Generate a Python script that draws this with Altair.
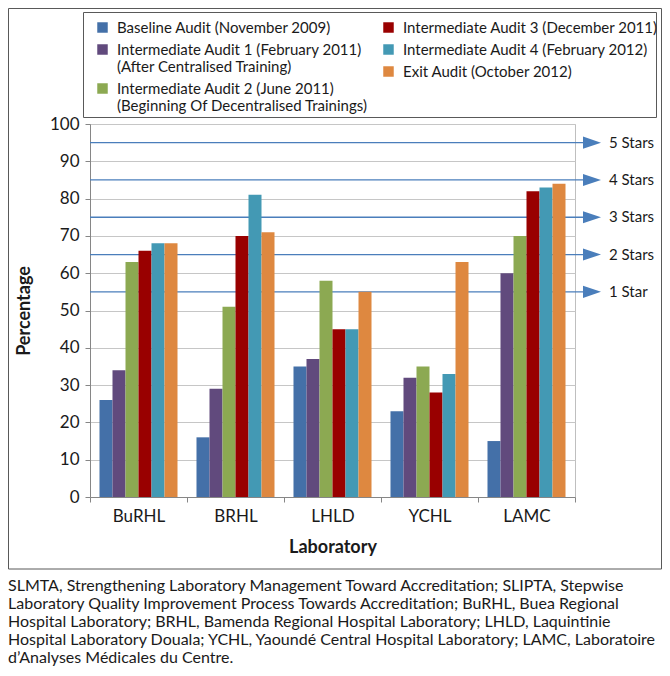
import altair as alt
import pandas as pd

FONT = "Lato"
TEXT = "#1a1a1a"

labs = ["BuRHL", "BRHL", "LHLD", "YCHL", "LAMC"]
audits = [
    "Baseline Audit (November 2009)",
    "Intermediate Audit 1 (February 2011)|(After Centralised Training)",
    "Intermediate Audit 2 (June 2011)|(Beginning Of Decentralised Trainings)",
    "Intermediate Audit 3 (December 2011)",
    "Intermediate Audit 4 (February 2012)",
    "Exit Audit (October 2012)",
]
colors = ["#4470A8", "#614A7D", "#8CA952", "#990000", "#4399B4", "#DE8840"]

baseline = [26, 16, 35, 23, 15]
ia1 = [34, 29, 37, 32, 60]
ia2 = [63, 51, 58, 35, 70]
ia3 = [66, 70, 45, 28, 82]
ia4 = [68, 81, 45, 33, 83]
exit_audit = [68, 71, 55, 63, 84]

star_levels = [55, 65, 75, 85, 95]
star_labels = ["1 Star", "2 Stars", "3 Stars", "4 Stars", "5 Stars"]

footnote = [
    "SLMTA, Strengthening Laboratory Management Toward Accreditation; SLIPTA, Stepwise",
    "Laboratory Quality Improvement Process Towards Accreditation; BuRHL, Buea Regional",
    "Hospital Laboratory; BRHL, Bamenda Regional Hospital Laboratory; LHLD, Laquintinie",
    "Hospital Laboratory Douala; YCHL, Yaoundé Central Hospital Laboratory; LAMC, Laboratoire",
    "d\u2019Analyses Médicales du Centre.",
]

series = [baseline, ia1, ia2, ia3, ia4, exit_audit]
rows = []
for a, vals in zip(audits, series):
    for lab, v in zip(labs, vals):
        rows.append({"lab": lab, "audit": a, "value": v})
df = pd.DataFrame(rows)
star_df = pd.DataFrame({"value": star_levels, "label": star_labels})
one = pd.DataFrame({"k": [0]})

W, H = 485, 373

x_enc = alt.X("lab:N", sort=labs, title="Laboratory",
              scale=alt.Scale(paddingInner=0, paddingOuter=0))
y_enc = alt.Y("value:Q", title="Percentage", scale=alt.Scale(domain=[0, 100]))

legend_common = dict(
    orient="none", title=None, direction="vertical",
    symbolType="square", symbolSize=110, symbolStrokeWidth=0,
    labelFont=FONT, labelFontSize=15, labelColor=TEXT, labelLimit=500,
    labelExpr="split(datum.label, '|')", labelOffset=7,
    rowPadding=6, padding=0,
)

bars = alt.Chart(df).mark_bar().encode(
    x=x_enc,
    xOffset=alt.XOffset("audit:N", sort=audits,
                        scale=alt.Scale(paddingInner=0, paddingOuter=0.73)),
    y=y_enc,
    color=alt.Color("audit:N", scale=alt.Scale(domain=audits, range=colors),
                    legend=alt.Legend(values=audits[:3], legendX=5, legendY=-104,
                                      **legend_common)),
)

legend2 = alt.Chart(df).transform_filter("false").mark_bar().encode(
    color=alt.Color("audit:N", scale=alt.Scale(domain=audits, range=colors),
                    legend=alt.Legend(values=audits[3:], legendX=291, legendY=-104,
                                      **legend_common)),
)

frame = alt.Chart(one).mark_rect(fill="transparent", stroke="#595959", strokeWidth=1).encode(
    x=alt.value(-81.5), x2=alt.value(571.5), y=alt.value(-115.5), y2=alt.value(445)
)
legend_box = alt.Chart(one).mark_rect(fill="transparent", stroke="#595959", strokeWidth=1).encode(
    x=alt.value(-6.5), x2=alt.value(566.5), y=alt.value(-111.5), y2=alt.value(-6.5)
)

rules = alt.Chart(star_df).mark_rule(color="#4A7EBB", strokeWidth=1.3).encode(
    y=alt.Y("value:Q", title="Percentage"), x=alt.value(0), x2=alt.value(493)
)
arrows = alt.Chart(star_df).mark_point(
    shape="M-1,-0.67L1,0L-1,0.67Z", filled=True, size=324, color="#4A7EBB", opacity=1
).encode(y=alt.Y("value:Q", title="Percentage"), x=alt.value(502))
star_text = alt.Chart(star_df).mark_text(
    align="left", baseline="middle", font=FONT, fontSize=15, color=TEXT
).encode(y=alt.Y("value:Q", title="Percentage"), x=alt.value(519), text="label:N")

chart = alt.layer(frame, legend_box, rules, bars, legend2, arrows, star_text).resolve_scale(
    color="independent"
).resolve_legend(
    color="independent"
).properties(
    width=W, height=H,
    padding={"left": 82, "top": 116, "right": 87, "bottom": 171},
    autosize=alt.AutoSizeParams(type="none"),
    title=alt.TitleParams(
        text=footnote, orient="bottom", anchor="start", frame="group", dx=-82,
        offset=8, font=FONT, fontSize=16, fontWeight="normal", color=TEXT,
        lineHeight=18,
    ),
).configure_view(
    stroke="#BFBFBF"
).configure_axis(
    labelFont=FONT, titleFont=FONT, labelColor=TEXT, titleColor=TEXT,
    domainColor="#868686", tickColor="#868686", tickSize=5,
    labelFontSize=17, titleFontSize=18, titleFontWeight="bold",
).configure_axisY(
    grid=True, gridColor="#C6C6C6", tickCount=10, labelPadding=6, titlePadding=16,
).configure_axisX(
    grid=False, tickBand="extent", labelAngle=0, labelPadding=6, titlePadding=14,
)

chart.save("out.html", embed_options={"renderer": "svg", "actions": False})
